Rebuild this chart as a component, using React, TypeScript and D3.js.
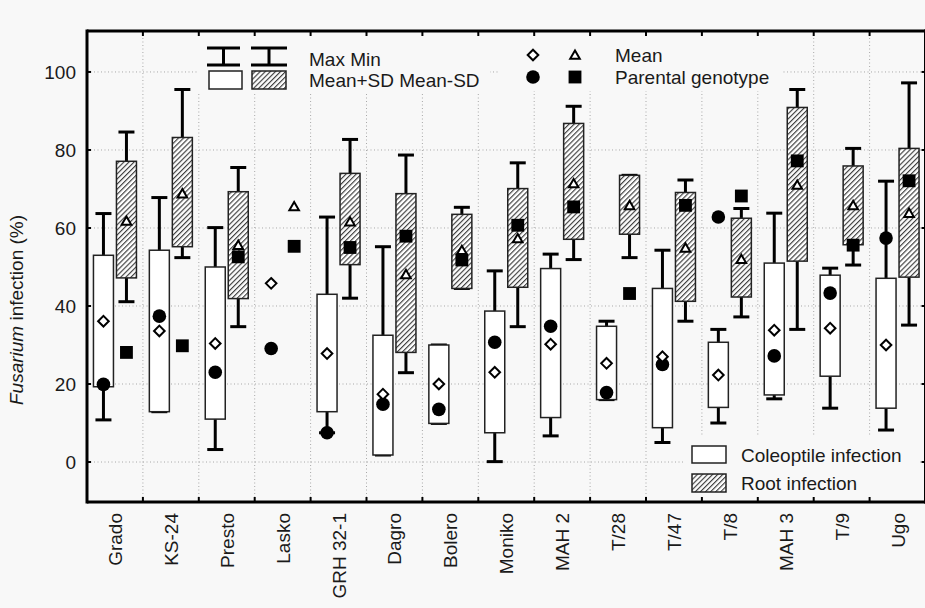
import { useRef, useEffect } from 'react';
import * as d3 from 'd3';

const categories = ['Grado', 'KS-24', 'Presto', 'Lasko', 'GRH 32-1', 'Dagro', 'Bolero', 'Moniko', 'MAH 2', 'T/28', 'T/47', 'T/8', 'MAH 3', 'T/9', 'Ugo'];

// coleoptile infection
const colMax = [63.7, 67.8, 60.1, null, 62.8, 55.2, 30.0, 49.0, 53.3, 36.1, 54.3, 34.0, 63.8, 49.7, 72.0];
const colSdHi = [53.0, 54.3, 50.0, null, 43.0, 32.5, 30.0, 38.7, 49.6, 34.8, 44.5, 30.7, 51.0, 47.9, 47.1];
const colSdLo = [19.3, 12.9, 11.0, null, 12.9, 1.8, 9.9, 7.5, 11.4, 16.0, 8.8, 14.0, 17.2, 22.0, 13.8];
const colMin = [10.8, 12.9, 3.2, null, 7.5, 1.8, 9.9, 0.1, 6.7, 16.0, 5.0, 10.0, 16.2, 13.8, 8.2];
const colMean = [36.1, 33.6, 30.4, 45.8, 27.8, 17.4, 20.0, 23.0, 30.2, 25.3, 27.0, 22.3, 33.8, 34.3, 30.0];
const colParent = [19.9, 37.4, 23.0, 29.1, 7.5, 14.8, 13.5, 30.7, 34.8, 17.8, 25.0, 62.8, 27.2, 43.3, 57.4];

// root infection
const rootMax = [84.6, 95.5, 75.5, null, 82.7, 78.7, 65.3, 76.7, 91.2, 73.5, 72.3, 65.0, 95.5, 80.4, 97.2];
const rootSdHi = [77.1, 83.2, 69.3, null, 74.0, 68.8, 63.5, 70.1, 86.8, 73.5, 69.1, 62.5, 90.9, 75.9, 80.4];
const rootSdLo = [47.2, 55.2, 41.9, null, 50.6, 28.1, 44.5, 44.8, 57.1, 58.4, 41.2, 42.3, 51.5, 55.7, 47.4];
const rootMin = [41.1, 52.4, 34.7, null, 42.0, 22.9, 44.5, 34.7, 51.9, 52.4, 36.1, 37.2, 34.0, 50.5, 35.1];
const rootMean = [61.8, 68.8, 55.6, 65.5, 61.6, 48.1, 54.3, 57.3, 71.4, 65.8, 54.9, 52.0, 71.0, 65.8, 63.8];
const rootParent = [28.1, 29.8, 52.6, 55.3, 55.0, 57.9, 51.8, 60.7, 65.4, 43.2, 65.8, 68.2, 77.2, 55.6, 72.1];

const yTicks = [0, 20, 40, 60, 80, 100];

const BG = '#f8f8f8';
const FONT = '"Liberation Sans", Arial, sans-serif';
const FS = 19;
const INK = '#1a1a1a';

const App = () => {
  const ref = useRef<SVGSVGElement>(null);

  useEffect(() => {
    const svg = d3.select(ref.current);
    svg.selectAll('*').remove();

    const left = 87, right = 925.5, top = 31, bottom = 502;
    const x = d3.scaleBand().domain(categories).range([left, right]);
    const y = d3.scaleLinear().domain([-10.25, 110.5]).range([bottom, top]);
    const bw = 20, off = 11.5, capW = 16;

    // hatch pattern
    const defs = svg.append('defs');
    const pat = defs.append('pattern')
      .attr('id', 'hatch')
      .attr('patternUnits', 'userSpaceOnUse')
      .attr('width', 3.6).attr('height', 3.6)
      .attr('patternTransform', 'rotate(45)');
    pat.append('rect').attr('width', 3.6).attr('height', 3.6).attr('fill', '#fff');
    pat.append('line').attr('x1', 0.6).attr('y1', 0).attr('x2', 0.6).attr('y2', 3.6)
      .attr('stroke', '#333').attr('stroke-width', 1.1);

    svg.append('rect').attr('width', 925).attr('height', 608).attr('fill', BG);

    // grid
    const grid = svg.append('g').attr('stroke', '#a8a8a8').attr('stroke-width', 1).attr('stroke-dasharray', '1 2.5');
    grid.selectAll('.hg').data(yTicks).join('line')
      .attr('x1', left).attr('x2', right)
      .attr('y1', d => y(d)).attr('y2', d => y(d));
    grid.selectAll('.vg').data(categories.slice(1)).join('line')
      .attr('x1', d => x(d)!).attr('x2', d => x(d)!)
      .attr('y1', top).attr('y2', bottom);

    // legend backgrounds (cover grid)
    svg.append('rect').attr('x', 198).attr('y', 33).attr('width', 292).attr('height', 61).attr('fill', BG);
    svg.append('rect').attr('x', 498).attr('y', 33).attr('width', 284).attr('height', 58).attr('fill', BG);
    svg.append('rect').attr('x', 685).attr('y', 437).attr('width', 235).attr('height', 63).attr('fill', BG);

    const idx = d3.range(categories.length);
    const cx = (i: number) => x(categories[i])! + x.bandwidth() / 2;

    const drawGroup = (maxA: any[], hiA: any[], loA: any[], minA: any[], dx: number, fill: string) => {
      const g = svg.append('g');
      const has = idx.filter(i => hiA[i] != null);
      // whiskers
      g.selectAll('.wu').data(has).join('line')
        .attr('x1', i => cx(i) + dx).attr('x2', i => cx(i) + dx)
        .attr('y1', i => y(hiA[i])).attr('y2', i => y(maxA[i]))
        .attr('stroke', '#000').attr('stroke-width', 3);
      g.selectAll('.wl').data(has).join('line')
        .attr('x1', i => cx(i) + dx).attr('x2', i => cx(i) + dx)
        .attr('y1', i => y(loA[i])).attr('y2', i => y(minA[i]))
        .attr('stroke', '#000').attr('stroke-width', 3);
      g.selectAll('.cu').data(has).join('line')
        .attr('x1', i => cx(i) + dx - capW / 2).attr('x2', i => cx(i) + dx + capW / 2)
        .attr('y1', i => y(maxA[i])).attr('y2', i => y(maxA[i]))
        .attr('stroke', '#000').attr('stroke-width', 3);
      g.selectAll('.cl').data(has).join('line')
        .attr('x1', i => cx(i) + dx - capW / 2).attr('x2', i => cx(i) + dx + capW / 2)
        .attr('y1', i => y(minA[i])).attr('y2', i => y(minA[i]))
        .attr('stroke', '#000').attr('stroke-width', 3);
      g.selectAll('.box').data(has).join('rect')
        .attr('x', i => cx(i) + dx - bw / 2)
        .attr('width', bw)
        .attr('y', i => y(hiA[i]))
        .attr('height', i => y(loA[i]) - y(hiA[i]))
        .attr('fill', fill).attr('stroke', '#222').attr('stroke-width', 1.5);
    };

    drawGroup(colMax, colSdHi, colSdLo, colMin, -off, '#fff');
    drawGroup(rootMax, rootSdHi, rootSdLo, rootMin, off, 'url(#hatch)');

    const diamond = d3.symbol().type(d3.symbolDiamond2).size(72);
    const triangle = d3.symbol().type(d3.symbolTriangle2).size(66);
    const square = d3.symbol().type(d3.symbolSquare2).size(210);

    const pts = svg.append('g');
    pts.selectAll('.par').data(idx).join('circle')
      .attr('cx', i => cx(i) - off).attr('cy', i => y(colParent[i])).attr('r', 6.8).attr('fill', '#000');
    pts.selectAll('.mc').data(idx).join('path')
      .attr('d', diamond)
      .attr('transform', i => `translate(${cx(i) - off},${y(colMean[i])})`)
      .attr('fill', '#fff').attr('stroke', '#000').attr('stroke-width', 2);
    pts.selectAll('.rp').data(idx).join('path')
      .attr('d', square)
      .attr('transform', i => `translate(${cx(i) + off},${y(rootParent[i])})`)
      .attr('fill', '#000');
    pts.selectAll('.mr').data(idx).join('path')
      .attr('d', triangle)
      .attr('transform', i => `translate(${cx(i) + off},${y(rootMean[i]) + 1})`)
      .attr('fill', '#fff').attr('stroke', '#000').attr('stroke-width', 2);

    // frame
    const fr = svg.append('g').attr('stroke', '#000').attr('stroke-width', 3);
    fr.append('line').attr('x1', left).attr('x2', left).attr('y1', top - 1.5).attr('y2', bottom + 1.5);
    fr.append('line').attr('x1', right).attr('x2', right).attr('y1', top - 1.5).attr('y2', bottom + 1.5);
    fr.append('line').attr('x1', left).attr('x2', right).attr('y1', top).attr('y2', top);
    fr.append('line').attr('x1', left).attr('x2', right).attr('y1', bottom).attr('y2', bottom);
    const tk = svg.append('g').attr('stroke', '#000').attr('stroke-width', 2);
    tk.selectAll('.yl').data(yTicks).join('line')
      .attr('x1', left).attr('x2', left + 4).attr('y1', d => y(d)).attr('y2', d => y(d));
    tk.selectAll('.yr').data(yTicks).join('line')
      .attr('x1', right - 4).attr('x2', right).attr('y1', d => y(d)).attr('y2', d => y(d));
    tk.selectAll('.xt').data(categories.slice(1)).join('line')
      .attr('x1', d => x(d)!).attr('x2', d => x(d)!).attr('y1', top).attr('y2', top + 5);
    tk.selectAll('.xb').data(categories.slice(1)).join('line')
      .attr('x1', d => x(d)!).attr('x2', d => x(d)!).attr('y1', bottom - 5).attr('y2', bottom);

    const txt = svg.append('g').attr('font-family', FONT).attr('font-size', FS).attr('fill', INK);
    txt.selectAll('.ylab').data(yTicks).join('text')
      .attr('x', 76).attr('y', d => y(d)).attr('dy', '0.35em')
      .attr('text-anchor', 'end').text(d => d);
    txt.selectAll('.xlab').data(categories).join('text')
      .attr('transform', d => `translate(${x(d)! + x.bandwidth() / 2 + 7},513) rotate(-90)`)
      .attr('text-anchor', 'end').text(d => d);
    const yt = txt.append('text')
      .attr('transform', 'translate(23,310) rotate(-90)')
      .attr('text-anchor', 'middle');
    yt.append('tspan').attr('font-style', 'italic').text('Fusarium');
    yt.append('tspan').text(' infection (%)');

    // legend: whisker/box
    const lg = svg.append('g');
    [[207, 240], [251, 287]].forEach(([a, b]) => {
      const m = (a + b) / 2;
      lg.append('line').attr('x1', a).attr('x2', b).attr('y1', 48).attr('y2', 48).attr('stroke', '#000').attr('stroke-width', 3);
      lg.append('line').attr('x1', a).attr('x2', b).attr('y1', 65).attr('y2', 65).attr('stroke', '#000').attr('stroke-width', 3);
      lg.append('line').attr('x1', m).attr('x2', m).attr('y1', 48).attr('y2', 65).attr('stroke', '#000').attr('stroke-width', 3);
    });
    lg.append('rect').attr('x', 209).attr('y', 71).attr('width', 33).attr('height', 18).attr('fill', '#fff').attr('stroke', '#222').attr('stroke-width', 1.5);
    lg.append('rect').attr('x', 252).attr('y', 71).attr('width', 34).attr('height', 18).attr('fill', 'url(#hatch)').attr('stroke', '#222').attr('stroke-width', 1.5);
    lg.append('text').attr('x', 309).attr('y', 66).attr('font-family', FONT).attr('font-size', FS).attr('fill', INK).text('Max Min');
    lg.append('text').attr('x', 309).attr('y', 87).attr('font-family', FONT).attr('font-size', FS).attr('fill', INK).text('Mean+SD Mean-SD');

    // legend: symbols
    lg.append('path').attr('d', diamond).attr('transform', 'translate(533,55)').attr('fill', '#fff').attr('stroke', '#000').attr('stroke-width', 2);
    lg.append('path').attr('d', triangle).attr('transform', 'translate(575,56)').attr('fill', '#fff').attr('stroke', '#000').attr('stroke-width', 2);
    lg.append('circle').attr('cx', 533).attr('cy', 77).attr('r', 6.8).attr('fill', '#000');
    lg.append('path').attr('d', square).attr('transform', 'translate(575,77)').attr('fill', '#000');
    lg.append('text').attr('x', 615).attr('y', 62).attr('font-family', FONT).attr('font-size', FS).attr('fill', INK).text('Mean');
    lg.append('text').attr('x', 615).attr('y', 83.5).attr('font-family', FONT).attr('font-size', FS).attr('fill', INK).text('Parental genotype');

    // legend: series
    lg.append('rect').attr('x', 692).attr('y', 446).attr('width', 34).attr('height', 17).attr('fill', '#fff').attr('stroke', '#222').attr('stroke-width', 1.5);
    lg.append('rect').attr('x', 692).attr('y', 474).attr('width', 34).attr('height', 18).attr('fill', 'url(#hatch)').attr('stroke', '#222').attr('stroke-width', 1.5);
    lg.append('text').attr('x', 741).attr('y', 462).attr('font-family', FONT).attr('font-size', FS).attr('fill', INK).text('Coleoptile infection');
    lg.append('text').attr('x', 741).attr('y', 490).attr('font-family', FONT).attr('font-size', FS).attr('fill', INK).text('Root infection');
  }, []);

  return (
    <svg ref={ref} width={925} height={608}
      style={{ position: 'absolute', left: 0, top: 0, display: 'block' }} />
  );
};

export default App;
